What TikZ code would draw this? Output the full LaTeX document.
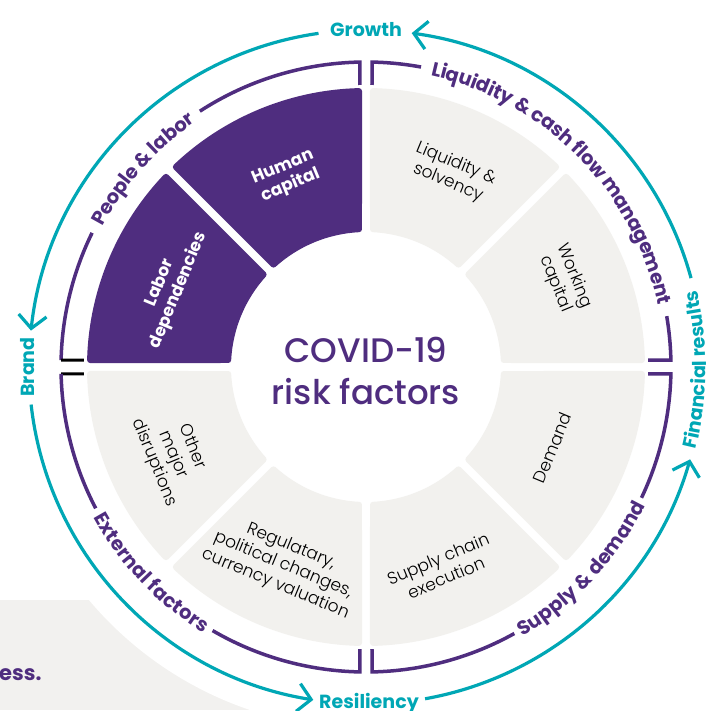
\documentclass[tikz,border=0pt]{standalone}
\usepackage{fontspec}
\setmainfont{Poppins}
\newfontfamily\lightf{Poppins Light}
\newfontfamily\medf{Poppins Medium}
\usetikzlibrary{arrows.meta,decorations.text}
\definecolor{gtpurple}{HTML}{4F2D7F}
\definecolor{gtteal}{HTML}{00A7B5}
\definecolor{wedgegray}{HTML}{F2F1EE}
\definecolor{bggray}{HTML}{F2F1EF}
\tikzset{
  bracket/.style={draw=gtpurple, line width=3.5pt, line join=miter},
  blacktick/.style={draw=black, line width=3pt},
  cyc/.style={draw=gtteal, line width=3.2pt, -{Straight Barb[length=13pt,width=28pt]}},
  tlabel/.style={text=gtteal, font=\fontsize{19}{19}\selectfont\bfseries, inner sep=0pt},
  wlabel/.style={align=center, font=\lightf\fontsize{17}{20.5}\selectfont, text=black, inner sep=0pt},
  plabel/.style={align=center, font=\fontsize{17}{20}\selectfont\bfseries, text=white, inner sep=0pt},
  arctext/.style={decorate, decoration={text along path, text align=center, raise=-6.5pt,
      text color=gtpurple, text={|\fontsize{19.5}{19.5}\selectfont\bfseries|#1}}},
}
\begin{document}
\begin{tikzpicture}[x=1pt,y=1pt]
\useasboundingbox (-366,-343) rectangle (349,367);
% page background pieces
\fill[bggray] (-366,-343) rectangle (0,-233);
\fill[white] (0,0) circle (362pt);
\node[anchor=west, inner sep=0pt, text=gtpurple, font=\fontsize{21}{21}\selectfont\bfseries] (ess) at (-367,-308) {ess.};
% wedges
\foreach \a/\c in {0/wedgegray,45/wedgegray,90/gtpurple,135/gtpurple,180/wedgegray,225/wedgegray,270/wedgegray,315/wedgegray}{
  \pgfmathsetmacro\sa{\a+1.45}
  \pgfmathsetmacro\ea{\a+45-1.45}
  \pgfmathsetmacro\si{\a+45-2.91}
  \pgfmathsetmacro\ei{\a+2.91}
  \filldraw[fill=\c, draw=\c, line width=6pt, line join=round]
    (\sa:276pt) arc[start angle=\sa, end angle=\ea, radius=276pt]
    -- (\si:138pt) arc[start angle=\si, end angle=\ei, radius=138pt] -- cycle;
}
% wedge labels
\node[plabel, rotate=22.5] (human) at (112.6:206pt) {Human\\capital};
\node[plabel, rotate=67.5] (labor) at (157.8:212pt) {Labor\\dependencies};
\node[wlabel, rotate=-22.5] (liq) at (66.1:212pt) {Liquidity \&\\solvency};
\node[wlabel, rotate=-67.5] (work) at (23.6:217pt) {Working\\capital};
\node[wlabel, rotate=67.5] (demand) at (-23.5:203pt) {Demand};
\node[wlabel, rotate=22.5] (supply) at (-69.3:215pt) {Supply chain\\execution};
\node[wlabel, rotate=-22.5] (reg) at (247.3:215pt) {Regulatary,\\political changes,\\currency valuation};
\node[wlabel, rotate=-67.5] (other) at (204.5:212pt) {Other\\major\\disruptions};
% centre
\node[align=center, text=gtpurple, font=\medf\fontsize{34}{42}\selectfont, inner sep=0pt] (covid) at (0,-4) {COVID-19\\risk factors};
% brackets: top right
\draw[bracket] (6,282) -- (88.87:305pt) arc[start angle=88.87, end angle=79.6, radius=305pt];
\path[arctext={Liquidity {\&} cash flow management}] (78.8:305pt) arc[start angle=78.8, end angle=10.6, radius=305pt];
\draw[bracket] (9.6:305pt) arc[start angle=9.6, end angle=1.3, radius=305pt] -- (282,6.9);
% top left
\draw[bracket] (-6,282) -- (91.13:305pt) arc[start angle=91.13, end angle=123, radius=305pt];
\path[arctext={People {\&} labor}] (153:305pt) arc[start angle=153, end angle=123.8, radius=305pt];
\draw[bracket] (153.9:305pt) arc[start angle=153.9, end angle=178.7, radius=305pt];
\draw[blacktick] (178.7:305pt) -- (-282,6.9);
% bottom left
\draw[blacktick] (181.3:305pt) -- (-282,-6.9);
\draw[bracket] (181.3:305pt) arc[start angle=181.3, end angle=207.6, radius=305pt];
\path[arctext={External factors}] (208.3:305pt) arc[start angle=208.3, end angle=239.2, radius=305pt];
\draw[bracket] (239.8:305pt) arc[start angle=239.8, end angle=268.87, radius=305pt] -- (-6,-282);
% bottom right
\draw[bracket] (6,-282) -- (271.13:305pt) arc[start angle=271.13, end angle=299.1, radius=305pt];
\path[arctext={Supply {\&} demand}] (299.9:305pt) arc[start angle=299.9, end angle=333.8, radius=305pt];
\draw[bracket] (334.6:305pt) arc[start angle=334.6, end angle=358.7, radius=305pt] -- (282,-6.9);
% outer cycle labels
\node[tlabel] (growth) at (0,337) {Growth};
\node[tlabel, rotate=90] (brand) at (-338,0) {Brand};
\node[tlabel, anchor=base] (resil) at (3,-341) {Resiliency};
\path[decorate, decoration={text along path, text align=center, raise=0pt, text color=gtteal,
   text={|\fontsize{19}{19}\selectfont\bfseries|Financial results}}]
   (-15:340pt) arc[start angle=-15, end angle=14, radius=340pt];
% outer cycle arrows
\draw[cyc] (15.3:337pt) arc[start angle=15.3, end angle=82.2, radius=337pt];
\draw[cyc] (98.1:337pt) arc[start angle=98.1, end angle=173.8, radius=337pt];
\draw[cyc] (186.4:337pt) arc[start angle=186.4, end angle=261, radius=337pt];
\draw[cyc] (280.1:337pt) arc[start angle=280.1, end angle=344.1, radius=337pt];
\end{tikzpicture}
\end{document}
